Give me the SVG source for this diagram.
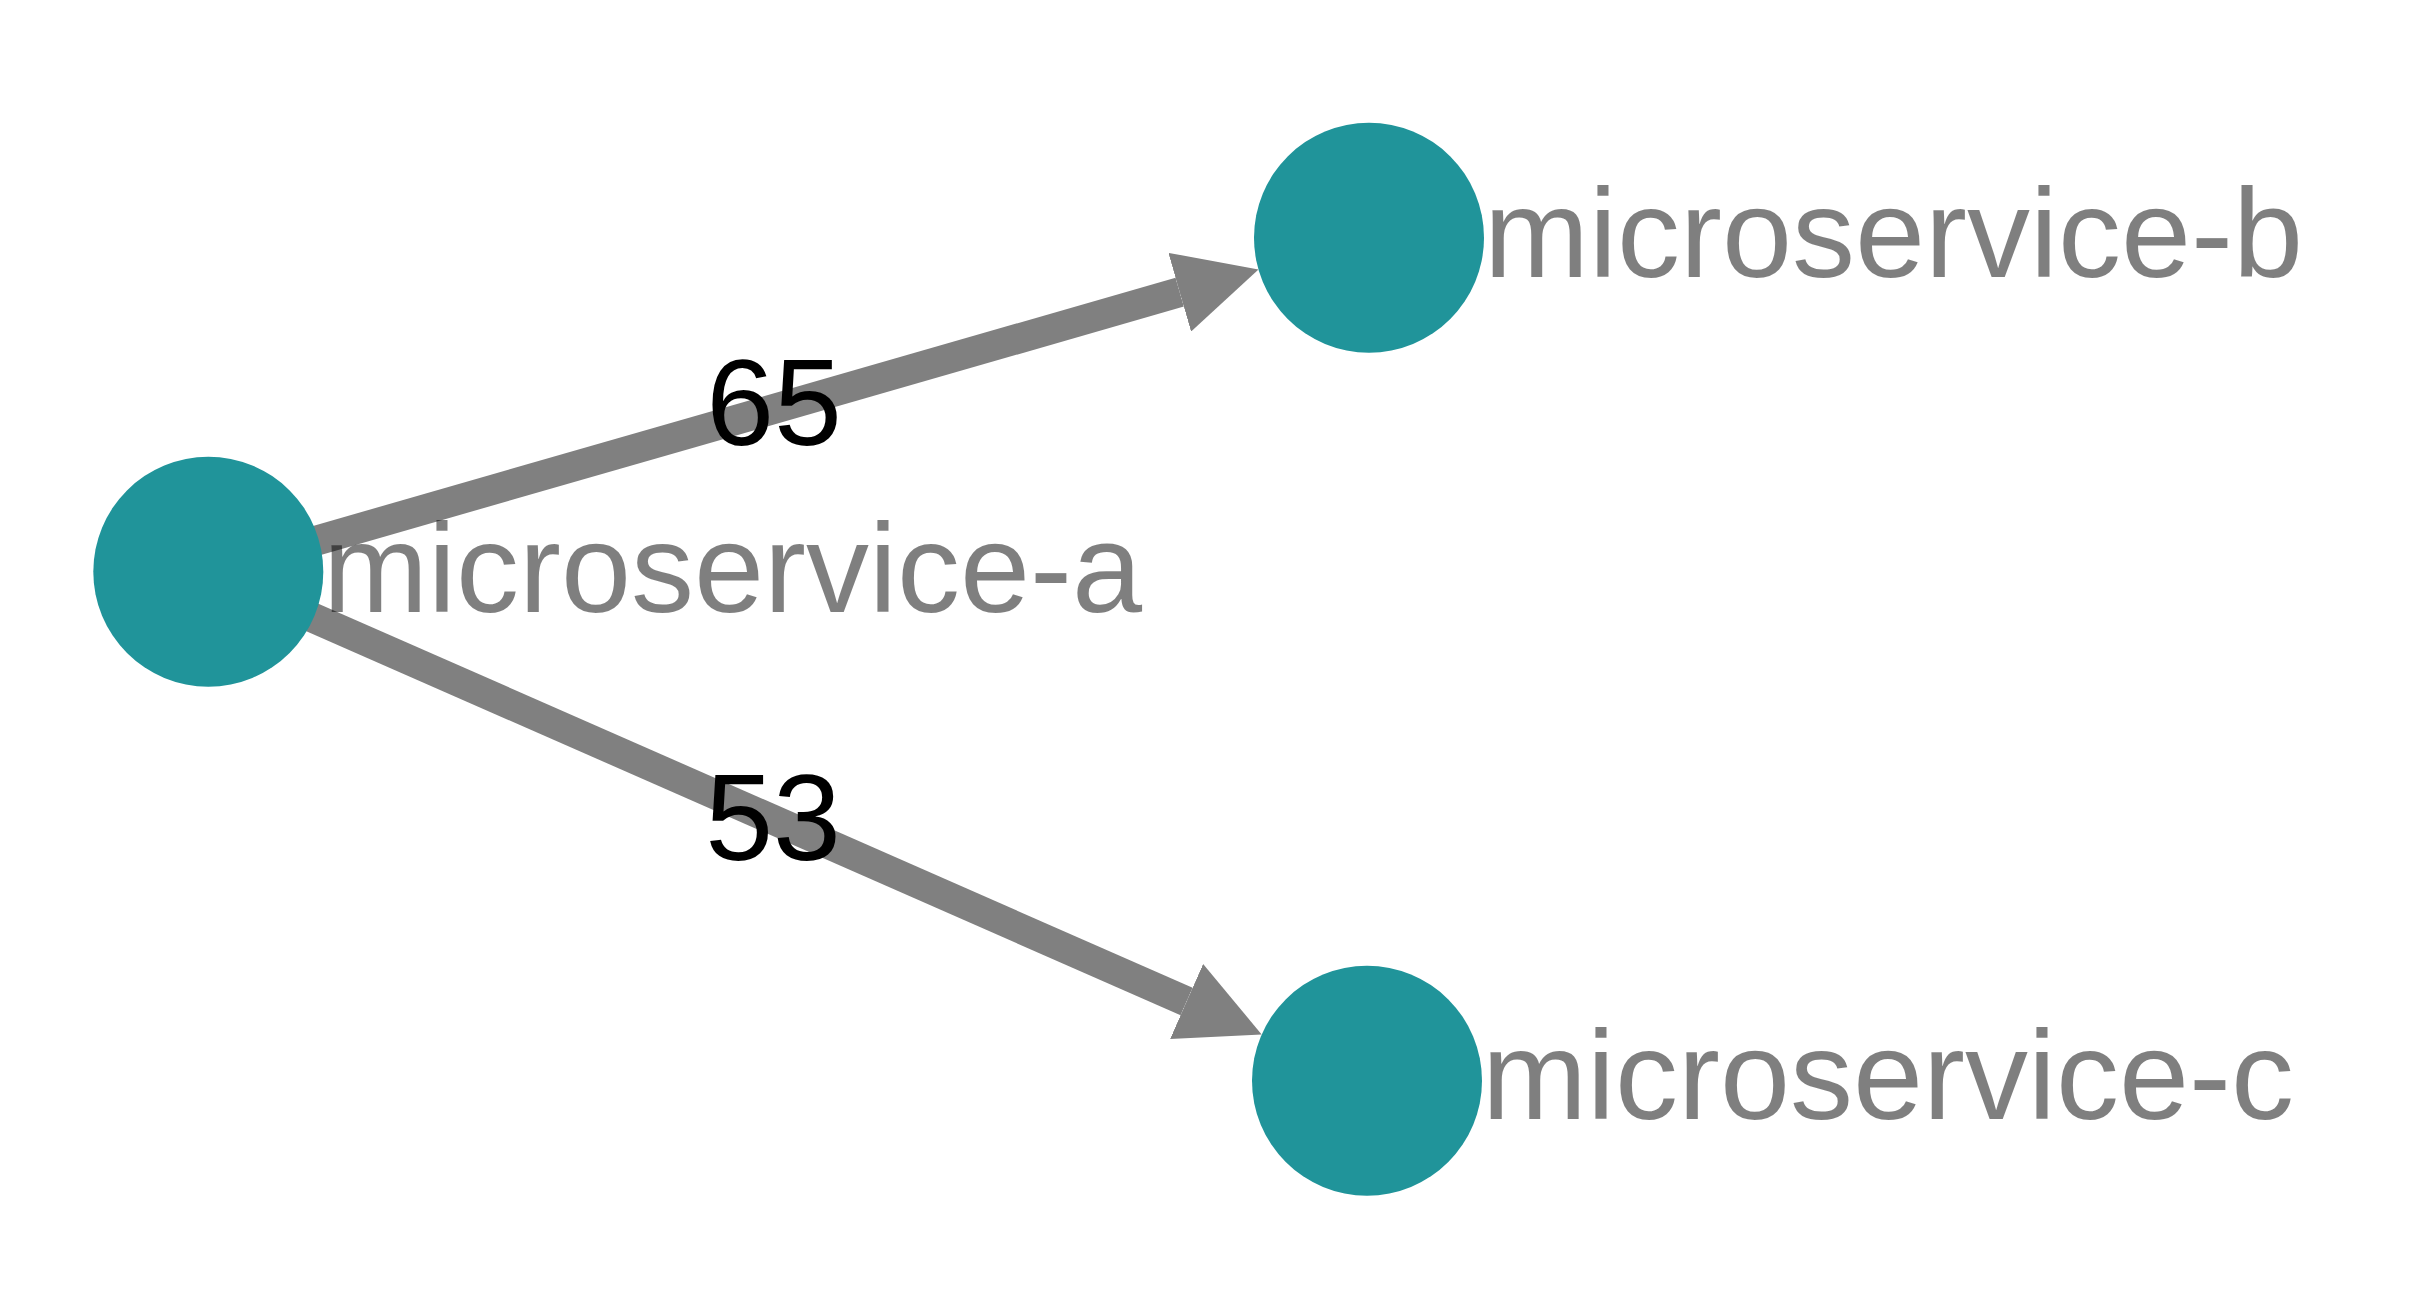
<svg xmlns="http://www.w3.org/2000/svg" width="2422" height="1290" viewBox="0 0 2422 1290">
<style>
.edge{stroke:#808080;stroke-width:30;fill:none;marker-end:url(#arrow)}
.node{fill:#20949a}
.nlabel{font-family:"Liberation Sans",Arial,sans-serif;font-size:126px;fill:#000;fill-opacity:0.5}
.elabel{font-family:"Liberation Sans",Arial,sans-serif;font-size:122px;fill:#000;text-anchor:middle}
</style>
<defs>
<marker id="arrow" viewBox="0 0 82 82" markerWidth="82" markerHeight="82" refX="0" refY="41" orient="auto" markerUnits="userSpaceOnUse">
<path d="M0,0 L82,41 L0,82 Z" fill="#808080"/>
</marker>
</defs>
<rect width="2422" height="1290" fill="#ffffff"/>
<g id="connectors">
<line class="edge" x1="208.3" y1="571.7" x2="1179.7" y2="292.2"/>
<line class="edge" x1="208.3" y1="571.7" x2="1186.6" y2="1001.5"/>
</g>
<g id="node-a">
<circle class="node" cx="208.3" cy="571.7" r="115"/>
<text class="nlabel" x="323" y="612">microservice-a</text>
</g>
<g id="node-b">
<circle class="node" cx="1369" cy="237.7" r="115"/>
<text class="nlabel" x="1484" y="277">microservice-b</text>
</g>
<g id="node-c">
<circle class="node" cx="1367" cy="1080.7" r="115"/>
<text class="nlabel" x="1482" y="1119">microservice-c</text>
</g>
<g id="edge-labels">
<text class="elabel" x="774" y="445">65</text>
<text class="elabel" x="773" y="860">53</text>
</g>
</svg>
